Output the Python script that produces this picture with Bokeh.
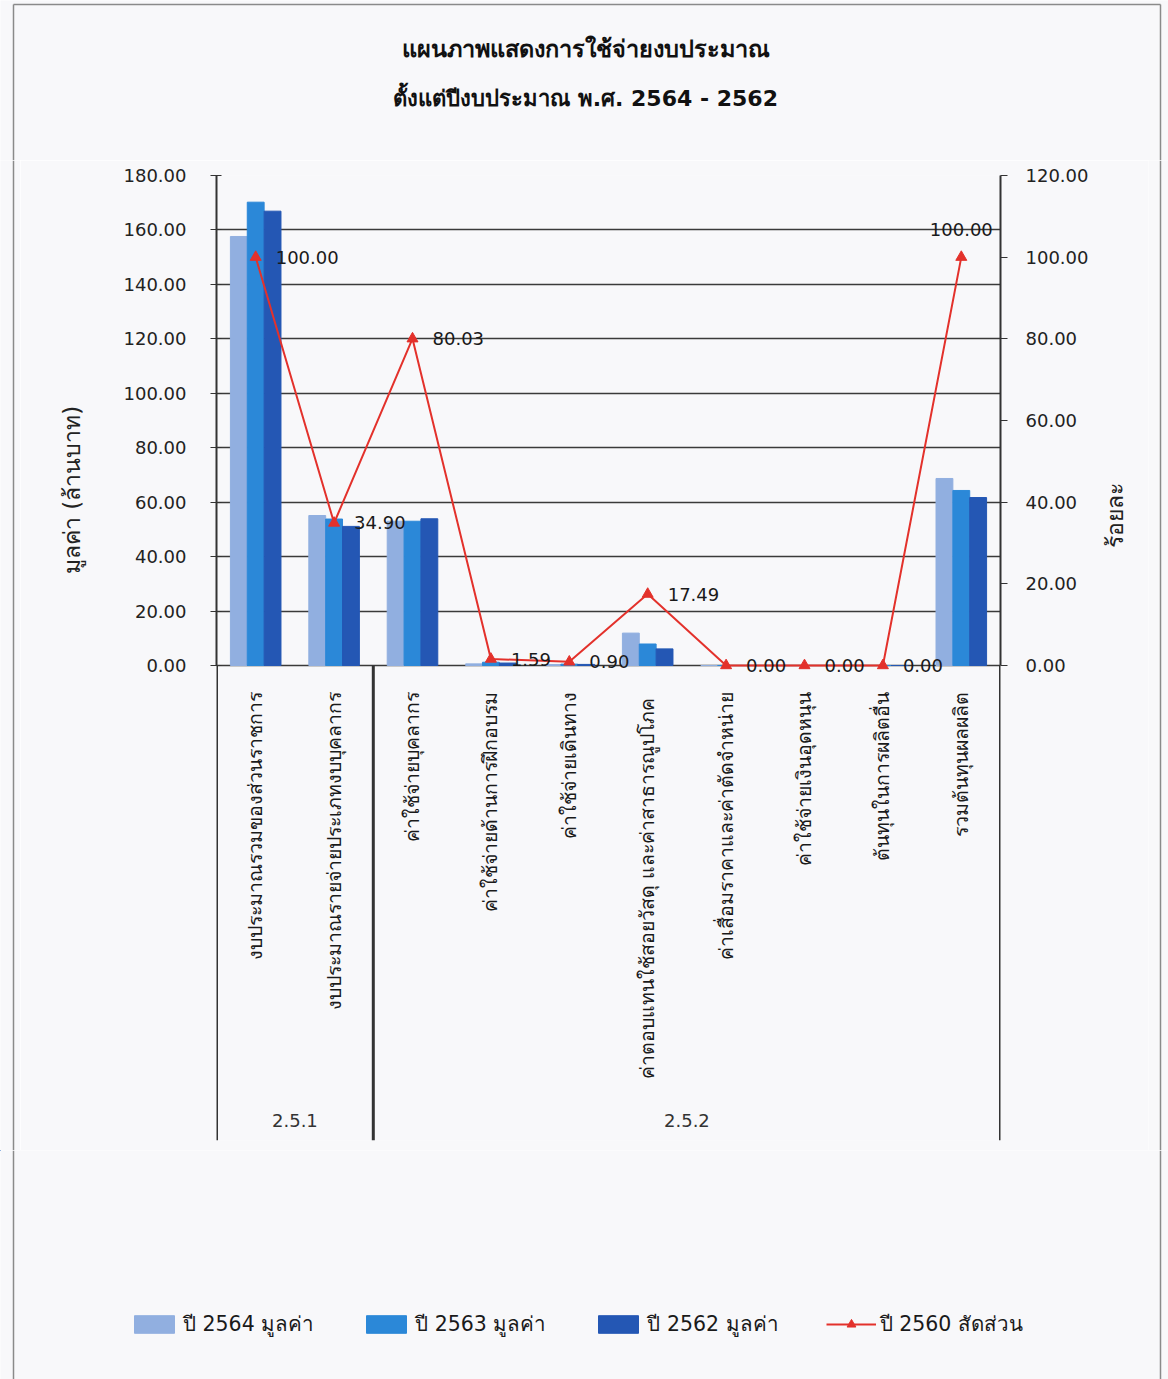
import math
from bokeh.plotting import figure
from bokeh.layouts import column, row
from bokeh.models import (ColumnDataSource, FactorRange, Range1d, LinearAxis, FixedTicker,
                          Legend, LegendItem, NumeralTickFormatter)
from bokeh.transform import dodge
from bokeh.core.properties import value
from bokeh.embed import file_html
from bokeh.resources import INLINE

# ---------------- data ----------------
categories = [
    "งบประมาณรวมของส่วนราชการ",
    "งบประมาณรายจ่ายประเภทงบบุคลากร",
    "ค่าใช้จ่ายบุคลากร",
    "ค่าใช้จ่ายด้านการฝึกอบรม",
    "ค่าใช้จ่ายเดินทาง",
    "ค่าตอบแทนใช้สอยวัสดุ  และค่าสาธารณูปโภค",
    "ค่าเสื่อมราคาและค่าตัดจำหน่าย",
    "ค่าใช้จ่ายเงินอุดหนุน",
    "ต้นทุนในการผลิตอื่น",
    "รวมต้นทุนผลผลิต",
]
groups = ["2.5.1", "2.5.2"]
group_sizes = [2, 8]
v2564 = [157.6, 55.1, 53.0, 0.6, 0.3, 11.9, 0.0, 0.0, 0.0, 68.7]
v2563 = [170.2, 53.8, 53.0, 1.2, 0.5, 7.9, 0.0, 0.0, 0.0, 64.3]
v2562 = [166.9, 51.1, 53.9, 0.9, 0.4, 6.1, 0.0, 0.0, 0.0, 61.7]
pct2560 = [100.00, 34.90, 80.03, 1.59, 0.90, 17.49, 0.00, 0.00, 0.00, 100.00]
left_ticks = [0, 20, 40, 60, 80, 100, 120, 140, 160, 180]
right_ticks = [0, 20, 40, 60, 80, 100, 120]
series_names = ["ปี 2564 มูลค่า", "ปี 2563 มูลค่า", "ปี 2562 มูลค่า", "ปี 2560 สัดส่วน"]
title_lines = ["แผนภาพแสดงการใช้จ่ายงบประมาณ", "ตั้งแต่ปีงบประมาณ พ.ศ. 2564 - 2562"]
y_label = "มูลค่า (ล้านบาท)"
y2_label = "ร้อยละ"

# ---------------- layout constants ----------------
W = 1168
STRIP = 20
MW = W - 2 * STRIP
TOP_H = 160
MAIN_TOP = 15
FRAME_H = 965
MAIN_BOT = 10
MAIN_H = MAIN_TOP + FRAME_H + MAIN_BOT
LEG_H = 1379 - TOP_H - MAIN_H
FL, FR = 216, 1000
PX_PER_UNIT = 490.0 / 180.0
LEFT_MAX = 180.0
LEFT_MIN = LEFT_MAX - FRAME_H / PX_PER_UNIT
RIGHT_MAX = 120.0
RIGHT_MIN = LEFT_MIN * RIGHT_MAX / LEFT_MAX
BORDER_L, BORDER_R = 13, 1160

FONT = "Tahoma, 'DejaVu Sans', 'Noto Sans', sans-serif"
BG = "#F8F8FA"
C1, C2, C3 = "#91AFE0", "#2B88D8", "#2457B4"
RED = "#E3312B"
AX = "#333333"
BORDER = "#8a8a8a"
NB = "\u00a0"


def blank(w, h):
    f = figure(width=w, height=h, x_range=Range1d(0, w), y_range=Range1d(h, 0),
               min_border=0, output_backend="svg", toolbar_location=None,
               x_axis_location=None, y_axis_location=None)
    f.frame_align = False
    f.background_fill_color = BG
    f.border_fill_color = BG
    f.outline_line_color = None
    f.grid.visible = False
    return f


# ---------------- title figure ----------------
top = blank(W, TOP_H)
tsrc = ColumnDataSource(dict(x=[585, 585], y=[48, 98], t=title_lines,
                             fs=["23.5px", "22px"]))
top.text(x="x", y="y", text="t", source=tsrc, text_align="center",
         text_baseline="middle", text_font=value(FONT), text_font_size="fs",
         text_font_style="bold", text_color="#111111")
top.segment(x0=[BORDER_L, BORDER_R, BORDER_L], y0=[4, 4, 4],
            x1=[BORDER_L, BORDER_R, BORDER_R], y1=[TOP_H, TOP_H, 4],
            line_color=BORDER, line_width=1.5)

# side strips carrying the outer border
left_strip = blank(STRIP, MAIN_H)
left_strip.segment(x0=[BORDER_L], y0=[0], x1=[BORDER_L], y1=[MAIN_H],
                   line_color=BORDER, line_width=1.5)
right_strip = blank(STRIP, MAIN_H)
right_strip.segment(x0=[BORDER_R - (W - STRIP)], y0=[0], x1=[BORDER_R - (W - STRIP)],
                    y1=[MAIN_H], line_color=BORDER, line_width=1.5)

# ---------------- main figure ----------------
src = ColumnDataSource(dict(cat=categories, v2564=v2564, v2563=v2563, v2562=v2562,
                            pct=pct2560))

p = figure(x_range=FactorRange(*categories), y_range=Range1d(LEFT_MIN, LEFT_MAX),
           width=MW, height=MAIN_H, min_border_left=FL - STRIP,
           min_border_right=W - STRIP - FR,
           min_border_top=MAIN_TOP, min_border_bottom=MAIN_BOT,
           output_backend="svg", toolbar_location=None, x_axis_location=None)
p.frame_align = False
p.extra_y_ranges = {"pct": Range1d(RIGHT_MIN, RIGHT_MAX)}
p.background_fill_color = BG
p.border_fill_color = BG
p.outline_line_color = None
p.xgrid.visible = False

# left axis
ya = p.yaxis[0]
ya.ticker = FixedTicker(ticks=left_ticks)
ya.bounds = (0, 180)
ya.formatter = NumeralTickFormatter(format="0.00")
ya.major_label_text_font = FONT
ya.major_label_text_font_size = "18px"
ya.major_label_text_color = "#222222"
ya.axis_line_color = AX
ya.axis_line_width = 2
ya.major_tick_line_color = AX
ya.major_tick_in = 5
ya.major_tick_out = 6
ya.minor_tick_line_color = None
ya.major_label_standoff = 24
# leading no-break spaces shift the title along the axis to where the reference has it
ya.axis_label = NB * 46 + y_label
ya.axis_label_text_font = FONT
ya.axis_label_text_font_size = "23px"
ya.axis_label_text_font_style = "normal"
ya.axis_label_text_color = "#222222"
ya.axis_label_standoff = 36

p.ygrid.ticker = FixedTicker(ticks=left_ticks)
p.ygrid.grid_line_color = "#3a3a3a"
p.ygrid.grid_line_width = 1.6

# right axis
ra = LinearAxis(y_range_name="pct", ticker=FixedTicker(ticks=right_ticks),
                formatter=NumeralTickFormatter(format="0.00"), bounds=(0, 120))
ra.major_label_text_font = FONT
ra.major_label_text_font_size = "18px"
ra.major_label_text_color = "#222222"
ra.axis_line_color = AX
ra.axis_line_width = 2
ra.major_tick_line_color = AX
ra.major_tick_in = 0
ra.major_tick_out = 7
ra.minor_tick_line_color = None
ra.major_label_standoff = 18
ra.axis_label = NB * 15 + y2_label
ra.axis_label_text_font = FONT
ra.axis_label_text_font_size = "23px"
ra.axis_label_text_font_style = "normal"
ra.axis_label_text_color = "#222222"
ra.axis_label_standoff = 24
ra.axis_label_orientation = math.pi / 2
p.add_layout(ra, "right")

# bars
bw = 0.215
r1 = p.vbar(x=dodge("cat", -bw, range=p.x_range), top="v2564", width=bw, bottom=0,
            source=src, fill_color=C1, line_color=C1)
r2 = p.vbar(x=dodge("cat", 0.0, range=p.x_range), top="v2563", width=bw, bottom=0,
            source=src, fill_color=C2, line_color=C2)
r3 = p.vbar(x=dodge("cat", bw, range=p.x_range), top="v2562", width=bw, bottom=0,
            source=src, fill_color=C3, line_color=C3)

# line on right axis
rl = p.line(x="cat", y="pct", source=src, y_range_name="pct", line_color=RED, line_width=2)
rm = p.scatter(x="cat", y="pct", source=src, y_range_name="pct", marker="triangle",
               size=11, fill_color=RED, line_color=RED)

# data labels: right of points, last one above
lbl_src = ColumnDataSource(dict(cat=categories[:-1], pct=pct2560[:-1],
                                t=["%.2f" % v for v in pct2560[:-1]]))
p.text(x="cat", y="pct", text="t", source=lbl_src, y_range_name="pct",
       x_offset=20, y_offset=0, text_align="left", text_baseline="middle",
       text_font=value(FONT), text_font_size="18px", text_color="#1a1a1a")
last_src = ColumnDataSource(dict(cat=categories[-1:], pct=pct2560[-1:],
                                 t=["%.2f" % v for v in pct2560[-1:]]))
p.text(x="cat", y="pct", text="t", source=last_src, y_range_name="pct",
       x_offset=0, y_offset=-28, text_align="center", text_baseline="middle",
       text_font=value(FONT), text_font_size="18px", text_color="#1a1a1a")

# category labels (rotated, below zero line)
p.text(x="cat", y=0, text="cat", source=src, angle=math.pi / 2,
       x_offset=0, y_offset=26, text_align="right", text_baseline="middle",
       text_font=value(FONT), text_font_size="19.5px", text_color="#1a1a1a")

# group separators and group labels
sep_x = [0]
acc = 0
for s in group_sizes:
    acc += s
    sep_x.append(acc)
p.segment(x0=sep_x, y0=[0] * len(sep_x), x1=sep_x, y1=[LEFT_MIN] * len(sep_x),
          line_color=AX, line_width=3)
grp_centers = [(sep_x[i] + sep_x[i + 1]) / 2 for i in range(len(groups))]
p.text(x=grp_centers, y=[LEFT_MIN + 20 / PX_PER_UNIT] * len(groups), text=groups,
       text_align="center", text_baseline="middle",
       text_font=value(FONT), text_font_size="18px", text_color="#333333")

# ---------------- legend figure ----------------
leg = blank(W, LEG_H)
leg.segment(x0=[BORDER_L, BORDER_R], y0=[0, 0], x1=[BORDER_L, BORDER_R], y1=[LEG_H, LEG_H],
            line_color=BORDER, line_width=1.5)
e = ColumnDataSource(dict(x=[-1000.0], y=[0.0]))
l1 = leg.vbar(x="x", top="y", width=1, source=e, fill_color=C1, line_color=C1)
l2 = leg.vbar(x="x", top="y", width=1, source=e, fill_color=C2, line_color=C2)
l3 = leg.vbar(x="x", top="y", width=1, source=e, fill_color=C3, line_color=C3)
l4 = leg.line(x="x", y="y", source=e, line_color=RED, line_width=2)
l5 = leg.scatter(x="x", y="y", source=e, marker="triangle", size=11,
                 fill_color=RED, line_color=RED)
legend = Legend(items=[
    LegendItem(label=series_names[0], renderers=[l1]),
    LegendItem(label=series_names[1], renderers=[l2]),
    LegendItem(label=series_names[2], renderers=[l3]),
    LegendItem(label=series_names[3], renderers=[l4, l5]),
], orientation="horizontal", location=(129, 39),
    glyph_width=50, glyph_height=22, label_standoff=4, spacing=47,
    label_text_font=FONT, label_text_font_size="20.5px", label_text_color="#1a1a1a",
    background_fill_alpha=0, border_line_color=None, padding=0, margin=0)
leg.add_layout(legend, "center")

layout = column(top, row(left_strip, p, right_strip, spacing=0), leg, spacing=0)
open("out.html", "w").write(file_html(layout, INLINE))
